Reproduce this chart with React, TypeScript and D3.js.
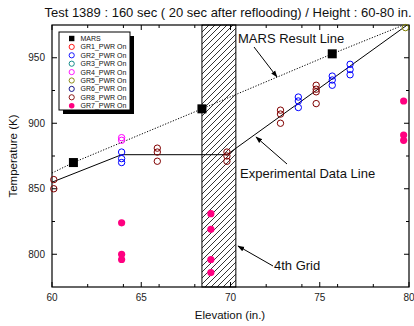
import * as d3 from "d3";

// 값은 그림에서 읽은 추정치
const title = "Test 1389 : 160 sec ( 20 sec after reflooding) / Height : 60-80 in.";
const xDomain = [60, 80];
const yDomain = [775, 975];
const gridZone = [68.4, 70.3];

const marsPoints: [number, number][] = [
  [61.2, 870],
  [68.4, 911],
  [75.7, 953],
];
const marsLine: [number, number][] = [
  [60, 862],
  [61.2, 870],
  [68.4, 911],
  [75.7, 953],
  [79.7, 975],
];
const expLine: [number, number][] = [
  [60, 855],
  [63.9, 876],
  [69.8, 876],
  [80, 976],
];

const gr2: [number, number][] = [
  [63.9, 878], [63.9, 873], [63.9, 870],
  [73.8, 920], [73.8, 917], [73.8, 912],
  [75.7, 936], [75.7, 933], [75.7, 929],
  [76.7, 945], [76.7, 941], [76.7, 937],
];
const gr4: [number, number][] = [
  [63.9, 889], [63.9, 887],
];
const gr5: [number, number][] = [[79.8, 973]];
const gr8: [number, number][] = [
  [60.1, 857], [60.1, 850],
  [65.9, 881], [65.9, 878], [65.9, 871],
  [69.8, 878], [69.8, 875], [69.8, 871],
  [72.8, 910], [72.8, 907], [72.8, 900],
  [74.8, 929], [74.8, 926], [74.8, 924], [74.8, 915],
];
const gr7: [number, number][] = [
  [63.9, 824], [63.9, 800], [63.9, 796],
  [68.9, 831], [68.9, 819], [68.9, 796], [68.9, 786],
  [79.7, 917], [79.7, 891], [79.7, 887],
];

const legendNames = ["MARS", "GR1_PWR On", "GR2_PWR On", "GR3_PWR On", "GR4_PWR On", "GR5_PWR On", "GR6_PWR On", "GR8_PWR On", "GR7_PWR On"];
const legendColors = ["#000000", "#ff0000", "#0000ff", "#008080", "#ff00ff", "#808000", "#000080", "#800000", "#ff0080"];

const FONT = "'Liberation Sans', Arial, sans-serif";

export default function App() {
  const W = 414;
  const H = 326;
  const left = 52, right = 409, top = 25, bottom = 287;

  const x = d3.scaleLinear().domain(xDomain).range([left, right]);
  const y = d3.scaleLinear().domain(yDomain).range([bottom, top]);

  const xMajor = x.ticks(4);
  const xMinor = x.ticks(8).filter((t) => !xMajor.includes(t));
  const yMajor = [800, 850, 900, 950];
  const yMinor = [825, 875, 925];

  const line = d3
    .line<[number, number]>()
    .x((d) => x(d[0]))
    .y((d) => y(d[1]));

  const openSets = [
    { pts: gr8, color: legendColors[7] },
    { pts: gr2, color: legendColors[2] },
    { pts: gr4, color: legendColors[4] },
    { pts: gr5, color: legendColors[5] },
  ];

  const legX = 59, legY = 32, legW = 71, legH = 78;

  return (
    <svg width={W} height={H} style={{ position: "absolute", left: 0, top: 0, background: "#fff" }} fontFamily={FONT}>
      <defs>
        <pattern id="hatch" patternUnits="userSpaceOnUse" width="6" height="6">
          <path d="M-1,1 l2,-2 M0,6 l6,-6 M5,7 l2,-2" stroke="#000" strokeWidth="0.8" />
        </pattern>
        <clipPath id="plotClip">
          <rect x={left} y={top} width={right - left} height={bottom - top} />
        </clipPath>
        <marker id="arrow" viewBox="0 0 10 10" refX="9" refY="5" markerWidth="7" markerHeight="7" orient="auto">
          <path d="M0,1.5 L10,5 L0,8.5 z" fill="#000" />
        </marker>
      </defs>

      {/* 타이틀 */}
      <text x={228} y={17} fontSize={13} textAnchor="middle" fill="#111">
        {title}
      </text>

      {/* 4th Grid 영역 */}
      <rect
        x={x(gridZone[0])}
        y={top}
        width={x(gridZone[1]) - x(gridZone[0])}
        height={bottom - top}
        fill="url(#hatch)"
        stroke="#000"
        strokeWidth={1}
      />

      {/* 선 */}
      <g clipPath="url(#plotClip)">
        <path d={line(marsLine) ?? ""} fill="none" stroke="#000" strokeWidth={1} strokeDasharray="1.2,1.6" />
        <path d={line(expLine) ?? ""} fill="none" stroke="#000" strokeWidth={1} />
      </g>

      {/* 프레임 */}
      <rect x={left} y={top} width={right - left} height={bottom - top} fill="none" stroke="#000" strokeWidth={1.2} />

      {/* 눈금 */}
      {xMajor.map((t) => (
        <g key={`xm${t}`}>
          <line x1={x(t)} x2={x(t)} y1={bottom} y2={bottom - 5} stroke="#000" />
          <line x1={x(t)} x2={x(t)} y1={top} y2={top + 5} stroke="#000" />
          <text x={x(t)} y={301} fontSize={10} textAnchor="middle" fill="#222">
            {t}
          </text>
        </g>
      ))}
      {xMinor.map((t) => (
        <g key={`xn${t}`}>
          <line x1={x(t)} x2={x(t)} y1={bottom} y2={bottom - 3} stroke="#000" />
          <line x1={x(t)} x2={x(t)} y1={top} y2={top + 3} stroke="#000" />
        </g>
      ))}
      {yMajor.map((t) => (
        <g key={`ym${t}`}>
          <line x1={left} x2={left + 5} y1={y(t)} y2={y(t)} stroke="#000" />
          <line x1={right} x2={right - 5} y1={y(t)} y2={y(t)} stroke="#000" />
          <text x={45} y={y(t)} dy="0.35em" fontSize={10} textAnchor="end" fill="#222">
            {t}
          </text>
        </g>
      ))}
      {yMinor.map((t) => (
        <g key={`yn${t}`}>
          <line x1={left} x2={left + 3} y1={y(t)} y2={y(t)} stroke="#000" />
          <line x1={right} x2={right - 3} y1={y(t)} y2={y(t)} stroke="#000" />
        </g>
      ))}

      {/* 축 제목 */}
      <text x={230} y={319} fontSize={11.5} textAnchor="middle" fill="#111">
        Elevation (in.)
      </text>
      <text transform={`translate(17,${(top + bottom) / 2}) rotate(-90)`} fontSize={11.5} textAnchor="middle" fill="#111">
        Temperature (K)
      </text>

      {/* 데이터 점 */}
      {openSets.map((s, i) =>
        s.pts.map((p, j) => (
          <circle key={`o${i}-${j}`} cx={x(p[0])} cy={y(p[1])} r={3.2} fill="none" stroke={s.color} strokeWidth={1} />
        )),
      )}
      {gr7.map((p, j) => (
        <circle key={`f${j}`} cx={x(p[0])} cy={y(p[1])} r={3.6} fill={legendColors[8]} />
      ))}
      {marsPoints.map((p, j) => (
        <rect key={`m${j}`} x={x(p[0]) - 4.5} y={y(p[1]) - 4.5} width={9} height={9} fill="#000" />
      ))}

      {/* 주석 */}
      <text x={238} y={43} fontSize={13} fill="#111">
        MARS Result Line
      </text>
      <line x1={254} y1={47} x2={277} y2={77} stroke="#000" strokeWidth={1} markerEnd="url(#arrow)" />
      <text x={240} y={178} fontSize={13} fill="#111">
        Experimental Data Line
      </text>
      <line x1={287} y1={164} x2={256} y2={137} stroke="#000" strokeWidth={1} markerEnd="url(#arrow)" />
      <text x={274} y={270} fontSize={13} fill="#111">
        4th Grid
      </text>
      <line x1={273} y1={266} x2={238} y2={246} stroke="#000" strokeWidth={1} markerEnd="url(#arrow)" />

      {/* 범례 */}
      <rect x={legX + 4} y={legY + 4} width={legW} height={legH} fill="#000" />
      <rect x={legX} y={legY} width={legW} height={legH} fill="#fff" stroke="#000" strokeWidth={1} />
      {legendNames.map((name, i) => {
        const cy = legY + 6.5 + i * 8.4;
        const color = legendColors[i];
        return (
          <g key={name}>
            {i === 0 ? (
              <rect x={71.7 - 2.7} y={cy - 2.7} width={5.4} height={5.4} fill="#000" />
            ) : i === 8 ? (
              <circle cx={71.7} cy={cy} r={2.8} fill={color} />
            ) : (
              <circle cx={71.7} cy={cy} r={2.6} fill="none" stroke={color} strokeWidth={0.9} />
            )}
            <text x={80.5} y={cy} dy="0.35em" fontSize={7} fill="#111">
              {name}
            </text>
          </g>
        );
      })}
    </svg>
  );
}
